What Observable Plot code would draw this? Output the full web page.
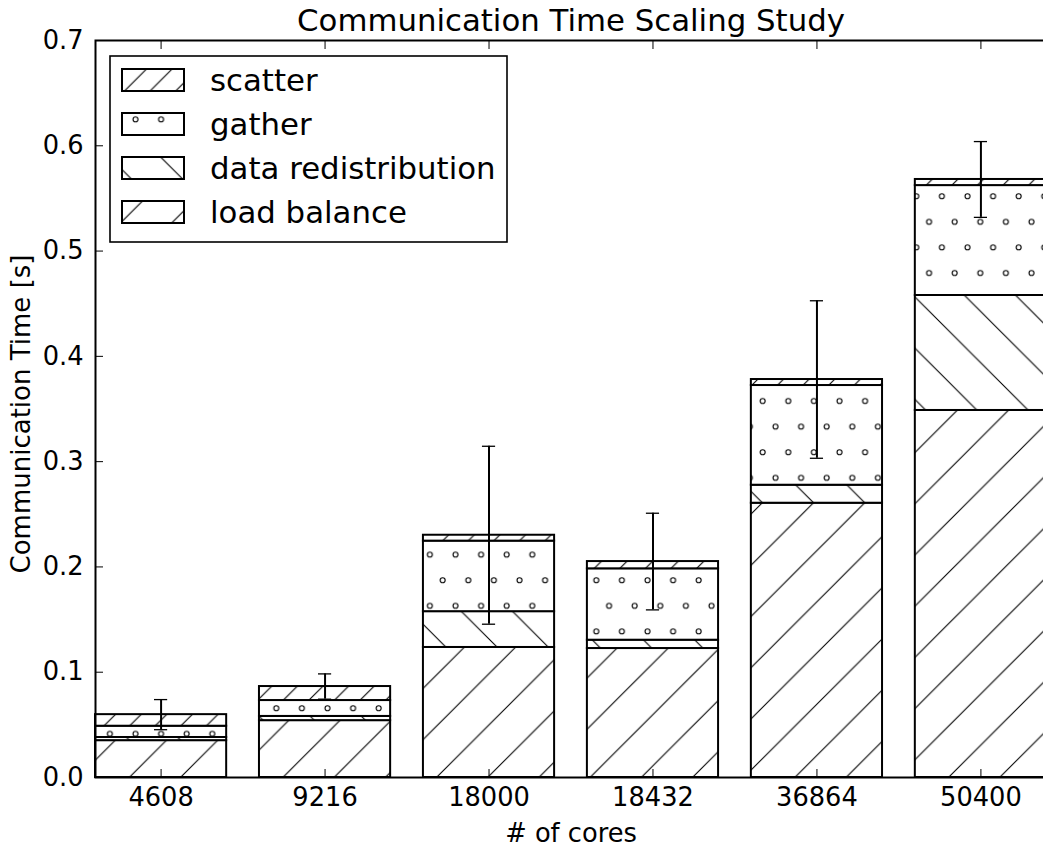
<!DOCTYPE html>
<html><head><meta charset="utf-8">
<script src="https://cdn.jsdelivr.net/npm/d3@7"></script>
<script src="https://cdn.jsdelivr.net/npm/@observablehq/plot@0.6"></script>
<style>
html,body{margin:0;padding:0;background:#fff;overflow:hidden;}
#chart svg{display:block;overflow:hidden;}
</style></head><body><div id="chart"></div>
<script>
// ---- data ----
const cores = ["4608", "9216", "18000", "18432", "36864", "50400"];
const stackOrder = ["load balance", "data redistribution", "gather", "scatter"];
const legendOrder = ["scatter", "gather", "data redistribution", "load balance"];
const loadBalance        = [0.0350, 0.0540, 0.1235, 0.1225, 0.2605, 0.3486];
const dataRedistribution = [0.0030, 0.0040, 0.0340, 0.0079, 0.0171, 0.1092];
const gather             = [0.0107, 0.0151, 0.0670, 0.0678, 0.0947, 0.1044];
const scatter            = [0.0110, 0.0133, 0.0056, 0.0069, 0.0057, 0.0058];
const errHalf            = [0.0143, 0.0120, 0.0845, 0.0459, 0.0748, 0.0360];
const yTicks = [0.0, 0.1, 0.2, 0.3, 0.4, 0.5, 0.6, 0.7];
const titleText = "Communication Time Scaling Study";
const xLabel = "# of cores";
const yLabel = "Communication Time [s]";

// ---- derived tables ----
const seriesValues = {
  "load balance": loadBalance,
  "data redistribution": dataRedistribution,
  "gather": gather,
  "scatter": scatter
};
const patId = {
  "scatter": "h-scatter",
  "gather": "h-gather",
  "data redistribution": "h-redist",
  "load balance": "h-lb"
};
const rows = [];
const totals = [];
cores.forEach((c, i) => {
  let acc = 0;
  for (const s of stackOrder) {
    const v = seriesValues[s][i];
    rows.push({cores: c, series: s, y1: acc, y2: acc + v});
    acc += v;
  }
  totals.push({cores: c, total: acc, lo: acc - errHalf[i], hi: acc + errHalf[i]});
});

const font = "'DejaVu Sans', 'Bitstream Vera Sans', sans-serif";

const svg = Plot.plot({
  width: 1043,
  height: 848,
  marginLeft: 95,
  marginTop: 40,
  marginBottom: 71,
  marginRight: -3,
  style: {fontFamily: font, fontSize: "25.7px", color: "black", background: "white", overflow: "hidden"},
  x: {domain: cores, range: [95, 1046], paddingInner: 0.2, paddingOuter: 0, round: false, label: null},
  y: {domain: [0, 0.7], range: [777, 40], label: null},
  marks: [
    ...stackOrder.map(s => Plot.barY(rows.filter(r => r.series === s), {
      x: "cores", y1: "y1", y2: "y2",
      fill: `url(#${patId[s]})`, stroke: "black", strokeWidth: 2
    })),
    Plot.ruleX(totals, {x: "cores", y1: "lo", y2: "hi", stroke: "black", strokeWidth: 2}),
    Plot.tickY(totals, {x: "cores", y: "hi", stroke: "black", strokeWidth: 1.3, inset: 59}),
    Plot.tickY(totals, {x: "cores", y: "lo", stroke: "black", strokeWidth: 1.3, inset: 59}),
    Plot.frame({stroke: "black", strokeWidth: 2}),
    Plot.axisY({ticks: yTicks, anchor: "left", tickSize: -8, tickPadding: 20,
      tickFormat: d3.format(".1f"), label: null, fontSize: 25.7}),
    Plot.axisX({anchor: "bottom", tickSize: -8, tickPadding: 18, label: null, fontSize: 25.7}),
    Plot.axisX({anchor: "top", tickSize: -8, tickFormat: () => "", label: null}),
    Plot.text([yLabel], {text: d => d, frameAnchor: "left", rotate: -90, dx: -74, dy: 5,
      textAnchor: "middle", lineAnchor: "middle", fontSize: 26}),
    Plot.text([xLabel], {text: d => d, frameAnchor: "bottom", dy: 56,
      textAnchor: "middle", lineAnchor: "middle", fontSize: 25.7}),
    Plot.text([titleText], {text: d => d, frameAnchor: "top", dy: -19,
      textAnchor: "middle", lineAnchor: "middle", fontSize: 30.8})
  ]
});

// ---- hatch patterns ----
const s = d3.select(svg);
const defs = s.insert("defs", ":first-child");
function linePattern(id, P, phase, dir) {
  const p = defs.append("pattern").attr("id", id)
    .attr("patternUnits", "userSpaceOnUse")
    .attr("width", P).attr("height", P)
    .attr("patternTransform", `translate(${phase},0)`);
  p.append("rect").attr("width", P).attr("height", P).attr("fill", "white");
  const d = dir > 0
    ? `M-2,2L2,-2M0,${P}L${P},0M${P - 2},${P + 2}L${P + 2},${P - 2}`
    : `M-2,${P - 2}L2,${P + 2}M0,0L${P},${P}M${P - 2},-2L${P + 2},2`;
  p.append("path").attr("d", d).attr("stroke", "black").attr("stroke-width", 1.1).attr("fill", "none");
}
linePattern("h-scatter", 25.6, 10.7, 1);
linePattern("h-lb", 51.2, 36.3, 1);
linePattern("h-redist", 51.2, 3.6, -1);
{
  const p = defs.append("pattern").attr("id", "h-gather")
    .attr("patternUnits", "userSpaceOnUse")
    .attr("width", 25.6).attr("height", 51.2);
  p.append("rect").attr("width", 25.6).attr("height", 51.2).attr("fill", "white");
  [[7.5, 17], [20.3, 42.6]].forEach(([cx, cy]) =>
    p.append("circle").attr("cx", cx).attr("cy", cy).attr("r", 2.5)
      .attr("fill", "none").attr("stroke", "black").attr("stroke-width", 1.1));
}

// ---- legend ----
const lg = s.append("g").attr("class", "legend").attr("text-anchor", "start");
lg.append("rect").attr("x", 110).attr("y", 56).attr("width", 397).attr("height", 186)
  .attr("fill", "white").attr("stroke", "black").attr("stroke-width", 1.6);
legendOrder.forEach((name, i) => {
  const y = 69 + i * 44;
  lg.append("rect").attr("x", 122).attr("y", y).attr("width", 62).attr("height", 22)
    .attr("fill", `url(#${patId[name]})`).attr("stroke", "black").attr("stroke-width", 2);
  lg.append("text").attr("x", 210).attr("y", y + 22)
    .attr("text-anchor", "start")
    .attr("font-family", font).attr("font-size", 30.8).attr("fill", "black")
    .text(name);
});

document.getElementById("chart").appendChild(svg);
</script>
</body></html>
